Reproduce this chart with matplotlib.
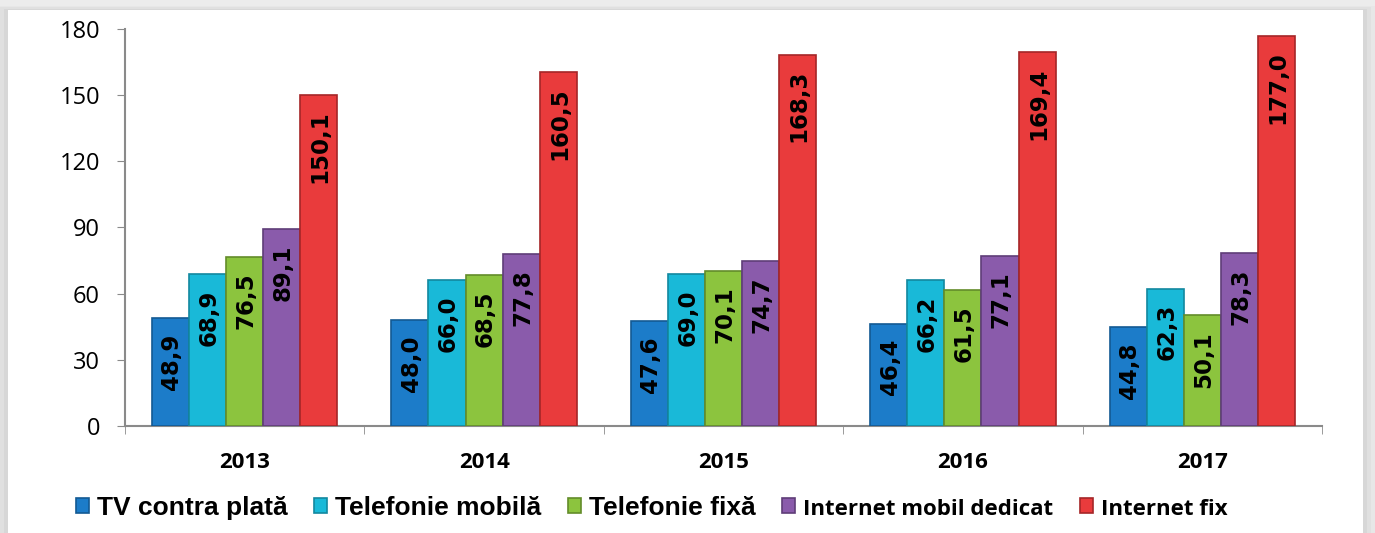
import matplotlib.pyplot as plt
import numpy as np
from matplotlib.patches import FancyBboxPatch

years = ["2013", "2014", "2015", "2016", "2017"]
series = ["TV contra plată", "Telefonie mobilă", "Telefonie fixă",
          "Internet mobil dedicat", "Internet fix"]
tv = [48.9, 48.0, 47.6, 46.4, 44.8]
mobila = [68.9, 66.0, 69.0, 66.2, 62.3]
fixa = [76.5, 68.5, 70.1, 61.5, 50.1]
inet_mobil = [89.1, 77.8, 74.7, 77.1, 78.3]
inet_fix = [150.1, 160.5, 168.3, 169.4, 177.0]
values = [tv, mobila, fixa, inet_mobil, inet_fix]

colors = ["#1c7cc9", "#19b9d8", "#8cc43e", "#8a5bab", "#e93b3c"]
edges = ["#135a93", "#12889f", "#638c2a", "#5f3d78", "#a52628"]

fig = plt.figure(figsize=(13.75, 5.33), dpi=100)
fig.patch.set_facecolor("#ececec")

# white panel with soft shadow
for i, a in enumerate([0.05, 0.08, 0.12]):
    pad = (3 - i) * 0.003
    fig.add_artist(FancyBboxPatch((0.006 - pad, -0.05), 0.985 + 2 * pad, 1.03 + pad,
                                  boxstyle="square,pad=0", transform=fig.transFigure,
                                  facecolor="#9a9a9a", edgecolor="none", alpha=a, zorder=0))
fig.add_artist(FancyBboxPatch((0.006, -0.05), 0.985, 1.032, boxstyle="square,pad=0",
                              transform=fig.transFigure, facecolor="white",
                              edgecolor="none", zorder=0.5))

ax = fig.add_axes([0.0909, 0.2008, 0.8706, 0.7448])
ax.set_zorder(2)
ax.set_facecolor("none")

x = np.arange(len(years))
w = 0.155
for i, (vals, c, ec) in enumerate(zip(values, colors, edges)):
    pos = x + (i - 2) * w
    ax.bar(pos, vals, width=w, color=c, edgecolor=ec, linewidth=1.2, label=series[i], zorder=3)
    for px, v in zip(pos, vals):
        ax.annotate(f"{v:.1f}".replace(".", ","), (px, v), xytext=(1, -11),
                    textcoords="offset points", rotation=90, ha="center", va="top",
                    fontsize=16.5, fontweight="bold", family="DejaVu Sans", zorder=4)

ax.set_xlim(-0.5, len(years) - 0.5)
ax.set_ylim(0, 180)
ax.set_yticks(range(0, 181, 30))
ax.set_xticks(x)
ax.set_xticklabels(years, fontweight="bold", fontsize=16, family="Open Sans")
ax.set_xticks(np.arange(-0.5, len(years), 1), minor=True)
ax.tick_params(axis="x", which="major", length=0, pad=19)
ax.tick_params(axis="x", which="minor", length=6, color="#8a8a8a")
ax.tick_params(axis="y", length=6, color="#8a8a8a", labelsize=17, pad=12)
for lab in ax.get_yticklabels():
    lab.set_family("Open Sans")
for s in ["top", "right"]:
    ax.spines[s].set_visible(False)
for s in ["left", "bottom"]:
    ax.spines[s].set_color("#8a8a8a")
    ax.spines[s].set_linewidth(1.5)

leg = fig.legend(loc="center", bbox_to_anchor=(0.474, 0.047), ncol=5, frameon=False,
                 handlelength=0.5, handleheight=0.5, handletextpad=0.3, columnspacing=1.0,
                 prop={"family": "Liberation Sans", "weight": "bold", "size": 19})
for t in leg.get_texts()[3:]:
    t.set_family("Open Sans")
    t.set_fontsize(16)
leg.set_zorder(3)

fig.savefig("out.png", dpi=100, facecolor=fig.get_facecolor())
